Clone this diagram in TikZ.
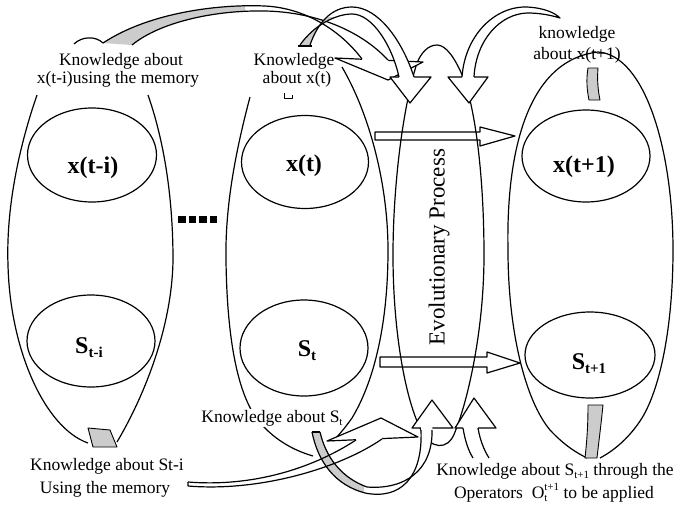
\documentclass[tikz,border=0pt]{standalone}
\usepackage{fontspec}
\setmainfont{Liberation Serif}
\usetikzlibrary{shapes.geometric}
\newcommand\mysub[1]{\raisebox{-3.5pt}{\fontsize{11}{11}\selectfont #1}}
\newcommand\opidx{\raisebox{-3.5pt}{\fontsize{11}{11.5}\selectfont\begin{tabular}[b]{@{}l@{}}t+1\\t\end{tabular}}}
\newcommand\bsub[1]{\raisebox{-4.5pt}{\fontsize{15}{15}\selectfont\bfseries #1}}
\newcommand\ribApath{(103,43) .. controls (150,12) and (220,4) .. (265,6) .. controls (305,8) and (340,30) .. (362,59) -- (363,64) -- (389,64) -- (388,60) .. controls (360,30) and (315,12) .. (265,11) .. controls (215,10) and (160,22) .. (132,45) -- cycle}
\newcommand\ribBpath{(300,45) .. controls (314,25) and (336,14) .. (352,14) .. controls (372,14) and (392,45) .. (399,77) -- (399,81) -- (414,81) -- (414,77) .. controls (402,40) and (378,7) .. (352,7) .. controls (332,7) and (318,22) .. (310,45) -- cycle}
\newcommand\ribDpath{(312,432) .. controls (318,462) and (335,485) .. (365,493) .. controls (400,500) and (423,478) .. (421,430) -- (421,424) -- (433,424) -- (432,430) .. controls (433,470) and (405,490) .. (367,487) .. controls (342,478) and (326,458) .. (320,432) -- cycle}
\newcommand\ribEpath{(188,482) .. controls (250,487) and (310,470) .. (356,440) -- (357,435) -- (382,434) -- (382,439) .. controls (340,468) and (260,492) .. (188,486) -- cycle}
\begin{document}
\begin{tikzpicture}[x=1pt,y=-1pt,line width=1.2pt,line join=round,
  lab/.style={font=\fontsize{17.5}{19}\selectfont, inner sep=1pt, fill=white, anchor=base},
  labnf/.style={font=\fontsize{17.5}{19}\selectfont, inner sep=1pt, anchor=base},
  ell/.style={ellipse, draw, line width=1.2pt, inner sep=0pt},
  big/.style={font=\fontsize{24}{26}\selectfont\bfseries, anchor=base, inner sep=0pt},
  head/.style={fill=white, draw, line width=1.2pt},
  band/.style={fill=black!20, draw, line width=0.9pt},
  shade/.style={fill=black!20}]
\fill[white] (0,0) rectangle (678,507);
\useasboundingbox (0,0) rectangle (678,507);

% columns
\draw (37,95) .. controls (18,150) and (6,210) .. (8,265) .. controls (10,350) and (45,428) .. (88,443);
\draw (117,442) .. controls (142,400) and (172,330) .. (173,260) .. controls (173,190) and (162,135) .. (148,95);
\draw (250,97) .. controls (236,150) and (225,205) .. (226,260) .. controls (227,340) and (238,395) .. (258,420) .. controls (272,438) and (292,450) .. (313,456);
\draw (342,67) .. controls (370,115) and (388,185) .. (388,250) .. controls (388,330) and (372,385) .. (352,418) .. controls (345,428) and (338,436) .. (333,441);
\draw (587,458) .. controls (577,453) and (565,446) .. (550,430) .. controls (525,400) and (508,330) .. (508,250) .. controls (506,150) and (528,60) .. (598,52) .. controls (645,55) and (673,150) .. (673,250) .. controls (673,320) and (662,385) .. (642,418) .. controls (630,437) and (615,450) .. (600,458);
% evolutionary process
\draw (437,45) .. controls (428,45) and (421,53) .. (417,63) .. controls (402,110) and (393,190) .. (393,255) .. controls (393,330) and (405,400) .. (422,432) .. controls (430,448) and (448,452) .. (455,432) .. controls (468,400) and (484,330) .. (484,255) .. controls (484,180) and (476,110) .. (463,77) .. controls (455,58) and (446,45) .. (437,45) -- cycle;
\node[rotate=90, font=\fontsize{23}{23}\selectfont, inner sep=0pt] (evo) at (439,247) {Evolutionary Process};

% inner ellipses
\node[ell, minimum width=129pt, minimum height=94pt] (exti) at (92,155) {};
\node[ell, minimum width=127pt, minimum height=93pt] (ext) at (305,162) {};
\node[ell, minimum width=128pt, minimum height=92pt] (extp) at (586,156) {};
\node[ell, minimum width=128pt, minimum height=92pt] (esti) at (91,341) {};
\node[ell, minimum width=128pt, minimum height=96pt] (est) at (304,348) {};
\node[ell, minimum width=130pt, minimum height=86pt] (estp) at (590,355) {};
\node[big] (txti) at (93,173) {x(t-i)};
\node[big] (txt) at (304,171) {x(t)};
\node[big] (txtp) at (584,172) {x(t+1)};
\node[big] (tsti) at (89,353) {S\bsub{t-i}};
\node[big] (tst) at (307,356) {S\bsub{t}};
\node[big] (tstp) at (589,369) {S\bsub{t+1}};

% dots
\foreach \d in {178,188.5,199,209.5} \fill (\d,216) rectangle ++(7.5,7);

% gray bands on the columns
\draw[band] (88,428) -- (110,430) -- (117,447) -- (93,447) -- cycle;
\draw[band] (588,68) .. controls (586,80) and (587,90) .. (589,100) -- (600,100) .. controls (598,90) and (597,80) .. (598,68) -- cycle;
\draw[band] (588,405) -- (603,405) .. controls (601,425) and (599,440) .. (597,458) -- (585,458) .. controls (587,440) and (588,425) .. (588,405) -- cycle;

% horizontal block arrows
\draw (375,132) -- (480,132) -- (480,127) -- (515,136) -- (480,146) -- (480,140) -- (375,140) -- cycle;
\draw (380,357) -- (487,357) -- (487,352) -- (520,363) -- (487,373) -- (487,367) -- (380,367) -- cycle;

% labels
\node[lab] (l1a) at (121,65) {Knowledge about};
\node[lab] (l1b) at (118,83) {x(t-i)using the memory};
\node[lab] (l2a) at (294,65) {Knowledge};
\node[lab] (l2b) at (297,83) {about x(t)};
\node[labnf] (l3a) at (577,38) {knowledge};
\node[labnf] (l3b) at (577,59) {about x(t+1)};
\node[lab] (l4) at (272,422) {Knowledge about S\mysub{t}};
\node[lab] (l5a) at (107,470) {Knowledge about St-i};
\node[lab] (l5b) at (105,493) {Using the memory};
\draw[line width=1pt] (284,93) -- (284,98) -- (292,98) -- (292,95);

% ribbon A
\draw[head] (335,58) -- (423,62) -- (388,80) -- cycle;
\fill[white] \ribApath;
\begin{scope}\clip (90,0) rectangle (245,60); \fill[shade] \ribApath; \end{scope}
\draw (74,44) .. controls (82,36) and (96,36) .. (103,43) .. controls (150,12) and (220,4) .. (265,6) .. controls (305,8) and (340,30) .. (362,59);
\draw (388,60) .. controls (360,30) and (315,12) .. (265,11) .. controls (215,10) and (160,22) .. (132,45);

% ribbon B
\draw[head] (390,77) -- (431,77) -- (410,103) -- cycle;
\fill[white] \ribBpath;
\begin{scope}\clip (290,17) rectangle (345,50); \fill[shade] \ribBpath; \end{scope}
\draw (300,45) .. controls (314,25) and (336,14) .. (352,14) .. controls (372,14) and (392,45) .. (399,77);
\draw (414,77) .. controls (402,40) and (378,7) .. (352,7) .. controls (332,7) and (318,22) .. (310,45);
\draw (298,46) -- (312,46);

% ribbon C
\draw[head] (448,77) -- (488,77) -- (469,103) -- cycle;
\fill[white] (462,77) .. controls (465,35) and (495,6) .. (527,7) .. controls (545,8) and (555,13) .. (560,18) .. controls (550,15) and (540,13) .. (527,13) .. controls (500,14) and (476,40) .. (474,77) -- (474,81) -- (462,81) -- cycle;
\draw (462,77) .. controls (465,35) and (495,6) .. (527,7) .. controls (545,8) and (555,13) .. (560,18) .. controls (550,15) and (540,13) .. (527,13) .. controls (500,14) and (476,40) .. (474,77);

% ribbon D
\draw[head] (412,428) -- (453,428) -- (432,400) -- cycle;
\fill[white] \ribDpath;
\begin{scope}\clip (300,425) rectangle (364,505); \fill[shade] \ribDpath; \end{scope}
\draw (312,432) .. controls (318,462) and (335,485) .. (365,493) .. controls (400,500) and (423,478) .. (421,430);
\draw (432,430) .. controls (433,470) and (405,490) .. (367,487) .. controls (342,478) and (326,458) .. (320,432);
\draw (312,432) -- (320,432);

% ribbon E
\draw[head] (327,441) -- (381,418) -- (418,437) -- cycle;
\begin{scope}\clip (350,420) rectangle (400,470); \fill[white] \ribEpath; \end{scope}
\draw (188,482) .. controls (250,487) and (310,470) .. (356,440);
\draw (382,439) .. controls (340,468) and (260,492) .. (188,486) -- (188,482);

% ribbon F
\draw[head] (455,428) -- (496,428) -- (474,398) -- cycle;
\fill[white] (463,424) -- (463,428) .. controls (465,440) and (468,450) .. (473,458) -- (489,458) .. controls (484,450) and (480,440) .. (478,428) -- (478,424) -- cycle;
\draw (463,428) .. controls (465,440) and (468,450) .. (473,458);
\draw (478,428) .. controls (480,440) and (484,450) .. (489,458);

\node[lab] (l6a) at (555,475) {Knowledge about S\mysub{t+1} through the};
\node[lab] (l6b) at (554,498) {Operators\ \ O\opidx\ to be applied};
\end{tikzpicture}
\end{document}
